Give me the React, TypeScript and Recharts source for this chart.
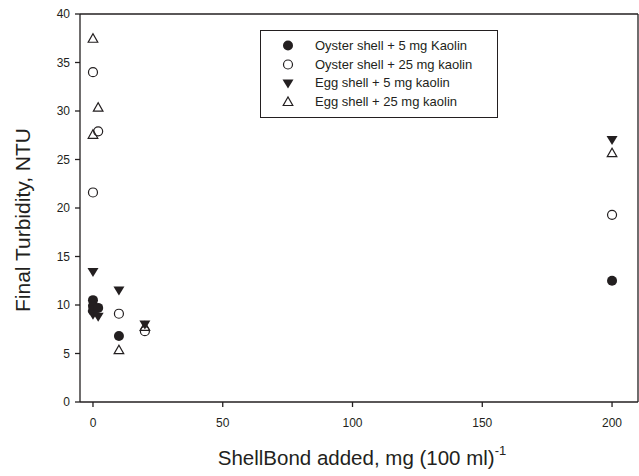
import React from "react";
import { ScatterChart, Scatter, XAxis, YAxis } from "recharts";

const xTicks = [0, 50, 100, 150, 200];
const yTicks = [0, 5, 10, 15, 20, 25, 30, 35, 40];

const oyster5X = [0, 0, 0, 2, 10, 200];
const oyster5Y = [10.5, 9.9, 9.4, 9.7, 6.8, 12.5];
const oyster25X = [0, 0, 2, 10, 20, 200];
const oyster25Y = [34.0, 21.6, 27.9, 9.1, 7.3, 19.3];
const egg5X = [0, 0, 2, 10, 20, 200];
const egg5Y = [13.4, 9.0, 8.8, 11.5, 8.0, 27.0];
const egg25X = [0, 2, 0, 10, 20, 200];
const egg25Y = [37.5, 30.4, 27.6, 5.4, 7.8, 25.7];

const seriesNames = [
  "Oyster shell + 5 mg Kaolin",
  "Oyster shell + 25 mg kaolin",
  "Egg shell + 5 mg kaolin",
  "Egg shell + 25 mg kaolin",
];

const toPts = (xs: number[], ys: number[]) => xs.map((x, i) => ({ x, y: ys[i] }));

const FONT = "'Liberation Sans', Arial, sans-serif";
const INK = "#231f20";

const FilledCircle = (p: any) => <circle cx={p.cx} cy={p.cy} r={5} fill={INK} />;
const OpenCircle = (p: any) => (
  <circle cx={p.cx} cy={p.cy} r={4.5} fill="#fff" stroke={INK} strokeWidth={1.2} />
);
const DownTri = (p: any) => (
  <path d={`M${p.cx - 5.5},${p.cy - 4} L${p.cx + 5.5},${p.cy - 4} L${p.cx},${p.cy + 5} Z`} fill={INK} />
);
const UpTri = (p: any) => (
  <path
    d={`M${p.cx - 4.8},${p.cy + 4} L${p.cx + 4.8},${p.cy + 4} L${p.cx},${p.cy - 4.5} Z`}
    fill="none"
    stroke={INK}
    strokeWidth={1.2}
  />
);

const legendMarkers = [FilledCircle, OpenCircle, DownTri, UpTri];

const LegendBox = () => (
  <div
    style={{
      position: "absolute",
      left: 260,
      top: 30,
      border: `1.3px solid ${INK}`,
      width: 238,
      height: 88,
      boxSizing: "border-box",
      fontFamily: FONT,
      fontSize: 13,
      color: INK,
      paddingTop: 5,
      background: "#fff",
    }}
  >
    {seriesNames.map((n, i) => {
      const M = legendMarkers[i];
      return (
        <div key={n} style={{ display: "flex", alignItems: "center", height: 18.8 }}>
          <svg width={54} height={19}>
            <M cx={27} cy={9.5} />
          </svg>
          <span>{n}</span>
        </div>
      );
    })}
  </div>
);

const XLabel = (props: any) => {
  const vb = props.viewBox || {};
  const cx = vb.x + vb.width / 2;
  return (
    <text x={cx + 3} y={465} textAnchor="middle" fontFamily={FONT} fontSize={20.5} fill={INK}>
      ShellBond added, mg (100 ml)
      <tspan fontSize={13} dy={-10}>-1</tspan>
    </text>
  );
};

const YLabel = (props: any) => {
  const vb = props.viewBox || {};
  const cy = vb.y + vb.height / 2 + 12;
  return (
    <text
      x={30}
      y={cy}
      transform={`rotate(-90, 30, ${cy})`}
      textAnchor="middle"
      fontFamily={FONT}
      fontSize={21}
      fill={INK}
    >
      Final Turbidity, NTU
    </text>
  );
};

export default function App() {
  return (
    <div style={{ position: "absolute", left: 0, top: 0, width: 639, height: 476, background: "#fff" }}>
      <ScatterChart width={639} height={476} margin={{ top: 13, right: 0, bottom: 0, left: 0 }}>
        <XAxis
          type="number"
          dataKey="x"
          domain={[-5, 210]}
          ticks={xTicks}
          allowDataOverflow
          tickSize={5}
          tickMargin={11}
          stroke={INK}
          strokeWidth={1.3}
          tick={{ fontFamily: FONT, fontSize: 12, fill: INK }}
          height={74}
          label={<XLabel />}
        />
        <XAxis
          xAxisId="top"
          orientation="top"
          type="number"
          dataKey="x"
          domain={[-5, 210]}
          tick={false}
          tickLine={false}
          stroke={INK}
          strokeWidth={1.3}
          height={1}
        />
        <YAxis
          type="number"
          dataKey="y"
          domain={[0, 40]}
          ticks={yTicks}
          tickSize={5}
          tickMargin={5}
          stroke={INK}
          strokeWidth={1.3}
          tick={{ fontFamily: FONT, fontSize: 12, fill: INK }}
          width={80}
          label={<YLabel />}
        />
        <YAxis
          yAxisId="right"
          orientation="right"
          type="number"
          dataKey="y"
          domain={[0, 40]}
          tick={false}
          tickLine={false}
          stroke={INK}
          strokeWidth={1.3}
          width={1}
        />
        <Scatter name={seriesNames[0]} data={toPts(oyster5X, oyster5Y)} shape={<FilledCircle />} isAnimationActive={false} />
        <Scatter name={seriesNames[1]} data={toPts(oyster25X, oyster25Y)} shape={<OpenCircle />} isAnimationActive={false} />
        <Scatter name={seriesNames[2]} data={toPts(egg5X, egg5Y)} shape={<DownTri />} isAnimationActive={false} />
        <Scatter name={seriesNames[3]} data={toPts(egg25X, egg25Y)} shape={<UpTri />} isAnimationActive={false} />
      </ScatterChart>
      <LegendBox />
    </div>
  );
}
